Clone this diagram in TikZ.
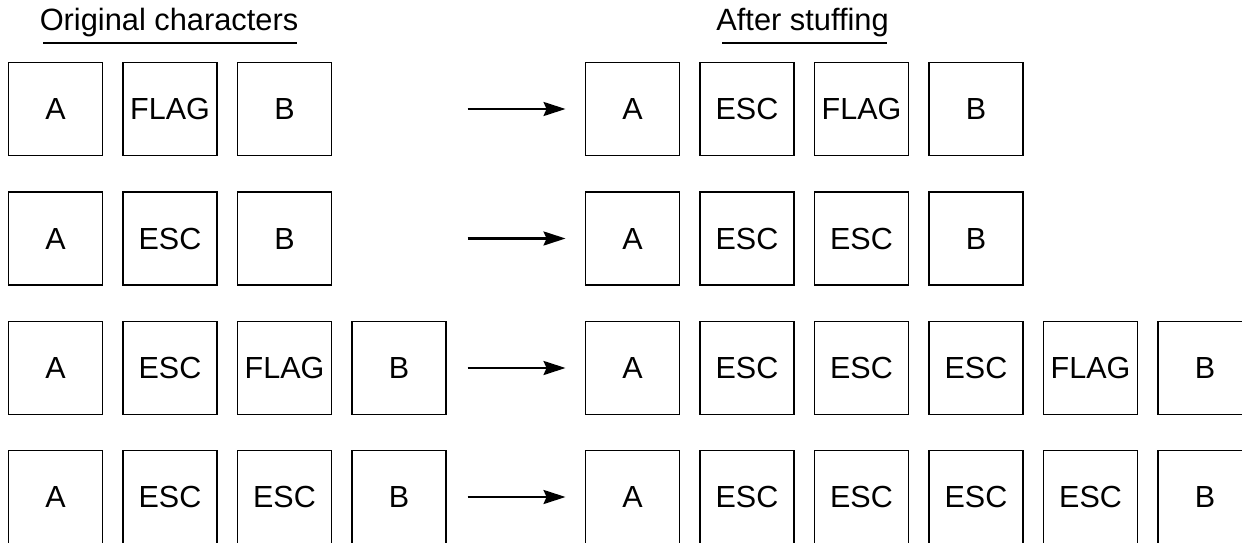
\documentclass[tikz,border=0pt]{standalone}
\usepackage{fontspec}
\setmainfont{Liberation Sans}
\usetikzlibrary{arrows.meta,calc}
\begin{document}
\begin{tikzpicture}[x=1pt,y=1pt,
  charbox/.style={draw,line width=1.9pt,minimum width=94pt,minimum height=93pt,inner sep=0pt,text height=21.5pt,text depth=0pt,font=\fontsize{30.5}{36}\selectfont},
  title/.style={anchor=base,inner sep=0pt,font=\fontsize{30.8}{36}\selectfont},
  uline/.style={line width=2pt},
  conv/.style={line width=2.4pt,-{Stealth[length=22pt,width=14pt,inset=3pt]}}]
\useasboundingbox (0,0) rectangle (1242,-543);
\clip (0,0) rectangle (1242,-543);
% titles
\node[title] (t1) at (169,-30.5) {Original characters};
\node[title] (t2) at (802.5,-30.5) {After stuffing};
\coordinate (u1a) at (43,-43); \coordinate (u1b) at (297,-43);
\coordinate (u2a) at (722,-43); \coordinate (u2b) at (887,-43);
\draw[uline] (u1a) -- (u1b);
\draw[uline] (u2a) -- (u2b);
% rows: y centres
\def\ya{-109}\def\yb{-238.5}\def\yc{-368}\def\yd{-497}
% row 1
\node[charbox] (L1a) at (55.5,\ya) {A};
\node[charbox] (L1b) at (170,\ya) {FLAG};
\node[charbox] (L1c) at (284.5,\ya) {B};
\node[charbox] (R1a) at (632.5,\ya) {A};
\node[charbox] (R1b) at (747,\ya) {ESC};
\node[charbox] (R1c) at (861.5,\ya) {FLAG};
\node[charbox] (R1d) at (976,\ya) {B};
% row 2
\node[charbox] (L2a) at (55.5,\yb) {A};
\node[charbox] (L2b) at (170,\yb) {ESC};
\node[charbox] (L2c) at (284.5,\yb) {B};
\node[charbox] (R2a) at (632.5,\yb) {A};
\node[charbox] (R2b) at (747,\yb) {ESC};
\node[charbox] (R2c) at (861.5,\yb) {ESC};
\node[charbox] (R2d) at (976,\yb) {B};
% row 3
\node[charbox] (L3a) at (55.5,\yc) {A};
\node[charbox] (L3b) at (170,\yc) {ESC};
\node[charbox] (L3c) at (284.5,\yc) {FLAG};
\node[charbox] (L3d) at (399,\yc) {B};
\node[charbox] (R3a) at (632.5,\yc) {A};
\node[charbox] (R3b) at (747,\yc) {ESC};
\node[charbox] (R3c) at (861.5,\yc) {ESC};
\node[charbox] (R3d) at (976,\yc) {ESC};
\node[charbox] (R3e) at (1090.5,\yc) {FLAG};
\node[charbox] (R3f) at (1205,\yc) {B};
% row 4
\node[charbox] (L4a) at (55.5,\yd) {A};
\node[charbox] (L4b) at (170,\yd) {ESC};
\node[charbox] (L4c) at (284.5,\yd) {ESC};
\node[charbox] (L4d) at (399,\yd) {B};
\node[charbox] (R4a) at (632.5,\yd) {A};
\node[charbox] (R4b) at (747,\yd) {ESC};
\node[charbox] (R4c) at (861.5,\yd) {ESC};
\node[charbox] (R4d) at (976,\yd) {ESC};
\node[charbox] (R4e) at (1090.5,\yd) {ESC};
\node[charbox] (R4f) at (1205,\yd) {B};
% arrows
\foreach \r in {1,2,3,4}{
  \coordinate (s\r) at ($(R\r a.west)+(-117,0)$);
  \coordinate (e\r) at ($(R\r a.west)+(-19,0)$);
  \draw[conv] (s\r) -- (e\r);
}
\end{tikzpicture}
\end{document}
